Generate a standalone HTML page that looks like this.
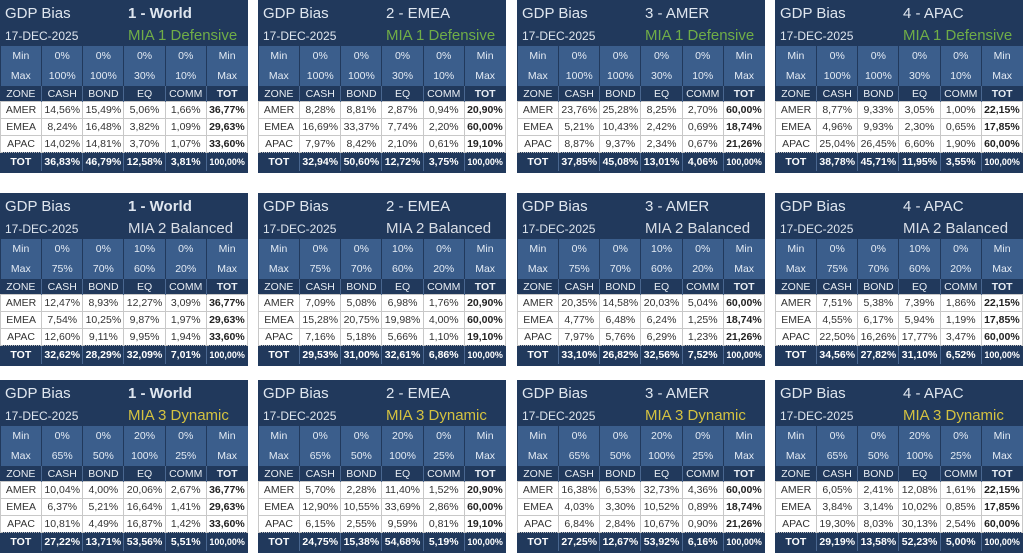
<!DOCTYPE html>
<html><head><meta charset="utf-8">
<style>
body{margin:0;width:1024px;height:545px;overflow:hidden;background:#fff;font-family:"Liberation Sans",sans-serif;position:relative}
.blk{position:absolute;width:248px;height:173px;background:#21395c;box-sizing:border-box}
.t{position:absolute;color:#dfe6ef;font-size:15px;white-space:nowrap}
table{position:absolute;left:0;top:46px;border-collapse:collapse;width:248px;table-layout:fixed}
td{padding:0;text-align:center;font-size:10.5px;white-space:nowrap;overflow:hidden}
tr.mm td{background:#3b5e8c;color:#e4ebf4;height:20px;border-left:1px solid #21395c;font-size:10.5px}
tr.hd td{background:#21395c;color:#e8edf3;font-size:10.5px;height:15px;border-left:1px solid #4a6790}
tr.bd td{background:#fff;color:#333;height:16px;border:1px solid #c8c8c8;border-bottom:1px dotted #bbb}
tr.bd td.tot{font-weight:bold;color:#222}
tr.ft td{background:#21395c;color:#fff;font-weight:bold;height:18px;border-left:1px solid #4a6790}
tr.ft td.tot{font-size:9px}
</style></head><body>
<script>
const lefts=[0,258,517,775];
const tops=[0,193,380];
const regions=["1 - World","2 - EMEA","3 - AMER","4 - APAC"];
const models=["MIA 1 Defensive","MIA 2 Balanced","MIA 3 Dynamic"];
const modelColors=["#70ad47","#d9dee6","#d4c240"];
const mins=[["0%","0%","0%","0%"],["0%","0%","10%","0%"],["0%","0%","20%","0%"]];
const maxs=[["100%","100%","30%","10%"],["75%","70%","60%","20%"],["65%","50%","100%","25%"]];
const zones=["AMER","EMEA","APAC"];
const vals=[
[
[["14,56%","15,49%","5,06%","1,66%","36,77%"],["8,24%","16,48%","3,82%","1,09%","29,63%"],["14,02%","14,81%","3,70%","1,07%","33,60%"],["36,83%","46,79%","12,58%","3,81%","100,00%"]],
[["8,28%","8,81%","2,87%","0,94%","20,90%"],["16,69%","33,37%","7,74%","2,20%","60,00%"],["7,97%","8,42%","2,10%","0,61%","19,10%"],["32,94%","50,60%","12,72%","3,75%","100,00%"]],
[["23,76%","25,28%","8,25%","2,70%","60,00%"],["5,21%","10,43%","2,42%","0,69%","18,74%"],["8,87%","9,37%","2,34%","0,67%","21,26%"],["37,85%","45,08%","13,01%","4,06%","100,00%"]],
[["8,77%","9,33%","3,05%","1,00%","22,15%"],["4,96%","9,93%","2,30%","0,65%","17,85%"],["25,04%","26,45%","6,60%","1,90%","60,00%"],["38,78%","45,71%","11,95%","3,55%","100,00%"]]
],[
[["12,47%","8,93%","12,27%","3,09%","36,77%"],["7,54%","10,25%","9,87%","1,97%","29,63%"],["12,60%","9,11%","9,95%","1,94%","33,60%"],["32,62%","28,29%","32,09%","7,01%","100,00%"]],
[["7,09%","5,08%","6,98%","1,76%","20,90%"],["15,28%","20,75%","19,98%","4,00%","60,00%"],["7,16%","5,18%","5,66%","1,10%","19,10%"],["29,53%","31,00%","32,61%","6,86%","100,00%"]],
[["20,35%","14,58%","20,03%","5,04%","60,00%"],["4,77%","6,48%","6,24%","1,25%","18,74%"],["7,97%","5,76%","6,29%","1,23%","21,26%"],["33,10%","26,82%","32,56%","7,52%","100,00%"]],
[["7,51%","5,38%","7,39%","1,86%","22,15%"],["4,55%","6,17%","5,94%","1,19%","17,85%"],["22,50%","16,26%","17,77%","3,47%","60,00%"],["34,56%","27,82%","31,10%","6,52%","100,00%"]]
],[
[["10,04%","4,00%","20,06%","2,67%","36,77%"],["6,37%","5,21%","16,64%","1,41%","29,63%"],["10,81%","4,49%","16,87%","1,42%","33,60%"],["27,22%","13,71%","53,56%","5,51%","100,00%"]],
[["5,70%","2,28%","11,40%","1,52%","20,90%"],["12,90%","10,55%","33,69%","2,86%","60,00%"],["6,15%","2,55%","9,59%","0,81%","19,10%"],["24,75%","15,38%","54,68%","5,19%","100,00%"]],
[["16,38%","6,53%","32,73%","4,36%","60,00%"],["4,03%","3,30%","10,52%","0,89%","18,74%"],["6,84%","2,84%","10,67%","0,90%","21,26%"],["27,25%","12,67%","53,92%","6,16%","100,00%"]],
[["6,05%","2,41%","12,08%","1,61%","22,15%"],["3,84%","3,14%","10,02%","0,85%","17,85%"],["19,30%","8,03%","30,13%","2,54%","60,00%"],["29,19%","13,58%","52,23%","5,00%","100,00%"]]
]];
let html="";
for(let r=0;r<3;r++)for(let c=0;c<4;c++){
 const v=vals[r][c];
 html+=`<div class="blk" style="left:${lefts[c]}px;top:${tops[r]}px">`;
 html+=`<div class="t" style="left:5px;top:5px">GDP Bias</div>`;
 html+=`<div class="t" style="left:128px;top:5px;${c==0?'font-weight:bold;':''}">${regions[c]}</div>`;
 html+=`<div class="t" style="left:5px;top:29px;font-size:12px">17-DEC-2025</div>`;
 html+=`<div class="t" style="left:128px;top:27px;color:${modelColors[r]}">${models[r]}</div>`;
 html+=`<table>`;
 html+=`<tr class="mm"><td style="border-left:none">Min</td>${mins[r].map(x=>`<td>${x}</td>`).join("")}<td>Min</td></tr>`;
 html+=`<tr class="mm"><td style="border-left:none">Max</td>${maxs[r].map(x=>`<td>${x}</td>`).join("")}<td>Max</td></tr>`;
 html+=`<tr class="hd">${["ZONE","CASH","BOND","EQ","COMM","TOT"].map((h,i)=>`<td style="${i==0?'border-left:none;':''}${i==5?'font-weight:bold':''}">${h}</td>`).join("")}</tr>`;
 for(let z=0;z<3;z++){
  html+=`<tr class="bd"><td>${zones[z]}</td>${v[z].map((x,i)=>`<td class="${i==4?'tot':''}">${x}</td>`).join("")}</tr>`;
 }
 html+=`<tr class="ft"><td style="border-left:none">TOT</td>${v[3].map((x,i)=>`<td class="${i==4?'tot':''}">${x}</td>`).join("")}</tr>`;
 html+=`</table></div>`;
}
document.body.innerHTML=html;
</script>
</body></html>
